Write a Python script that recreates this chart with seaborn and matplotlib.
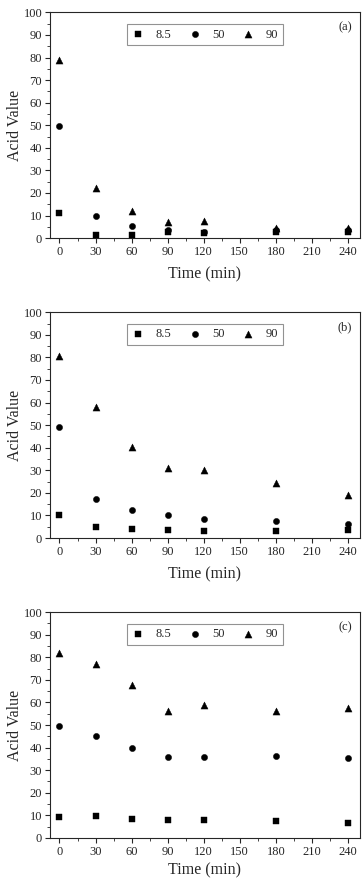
import pandas as pd
import numpy as np
import seaborn as sns
import matplotlib.pyplot as plt
from matplotlib.ticker import MultipleLocator

sns.set_style("ticks")
plt.rcParams['font.family'] = ['Liberation Serif', 'DejaVu Serif']

time_min = [0, 30, 60, 90, 120, 180, 240]
series_names = ['8.5', '50', '90']

# panel (a)
a_85 = [11.0, 1.3, 1.3, 2.8, 2.2, 2.5, 2.5]
a_50 = [49.7, 9.6, 5.4, 3.7, 2.9, 3.5, 3.5]
a_90 = [78.7, 22.4, 11.8, 7.1, 7.6, 4.6, 4.6]
# panel (b)
b_85 = [10.1, 4.7, 4.1, 3.7, 3.2, 3.1, 3.4]
b_50 = [49.0, 17.4, 12.6, 10.1, 8.5, 7.5, 6.3]
b_90 = [80.6, 58.1, 40.1, 31.0, 30.1, 24.4, 19.0]
# panel (c)
c_85 = [9.4, 9.6, 8.2, 7.9, 7.8, 7.4, 6.6]
c_50 = [49.7, 45.3, 40.0, 35.7, 36.0, 36.2, 35.3]
c_90 = [81.8, 77.2, 67.8, 56.2, 58.8, 56.2, 57.4]

panels = [('(a)', [a_85, a_50, a_90], 6),
          ('(b)', [b_85, b_50, b_90], 6),
          ('(c)', [c_85, c_50, c_90], 3.5)]

marker_map = {'8.5': 's', '50': 'o', '90': '^'}
size_map = {'8.5': 18, '50': 20, '90': 26}

fig = plt.figure(figsize=(3.64, 8.82), dpi=100)
bottoms = [0.730, 0.390, 0.050]

for (tag, vals, xpad), bot in zip(panels, bottoms):
    ax = fig.add_axes([0.137, bot, 0.852, 0.256])
    rows = []
    for name, v in zip(series_names, vals):
        for t, y in zip(time_min, v):
            rows.append({'time': t, 'acid': y, 'series': name})
    df = pd.DataFrame(rows)
    for name in series_names:
        sub = df[df['series'] == name]
        sns.scatterplot(data=sub, x='time', y='acid', marker=marker_map[name],
                        s=size_map[name], color='black', edgecolor='black',
                        linewidth=0.3, ax=ax, label=name, zorder=3)
    ax.set_xlim(-8, 250)
    ax.set_ylim(0, 100)
    ax.xaxis.set_major_locator(MultipleLocator(30))
    ax.xaxis.set_minor_locator(MultipleLocator(15))
    ax.yaxis.set_major_locator(MultipleLocator(10))
    ax.yaxis.set_minor_locator(MultipleLocator(5))
    ax.tick_params(which='major', direction='out', length=3.5, width=0.8, labelsize=9, pad=2)
    ax.tick_params(which='minor', direction='out', length=2, width=0.6)
    for sp in ax.spines.values():
        sp.set_linewidth(0.8)
    ax.set_xlabel('Time (min)', fontsize=11.5, labelpad=xpad)
    ax.set_ylabel('Acid Value', fontsize=11.5, labelpad=0.5)
    ax.text(0.975, 0.935, tag, transform=ax.transAxes, ha='right', va='center', fontsize=9)
    leg = ax.legend(loc='upper center', bbox_to_anchor=(0.5, 0.975), ncol=3,
                    fontsize=9, frameon=True, fancybox=False, handletextpad=0.9,
                    columnspacing=1.4, borderpad=0.35, handlelength=1.0, markerscale=1.0)
    leg.get_frame().set_edgecolor('#777777')
    leg.get_frame().set_linewidth(0.8)

fig.savefig('out.png', dpi=100)
